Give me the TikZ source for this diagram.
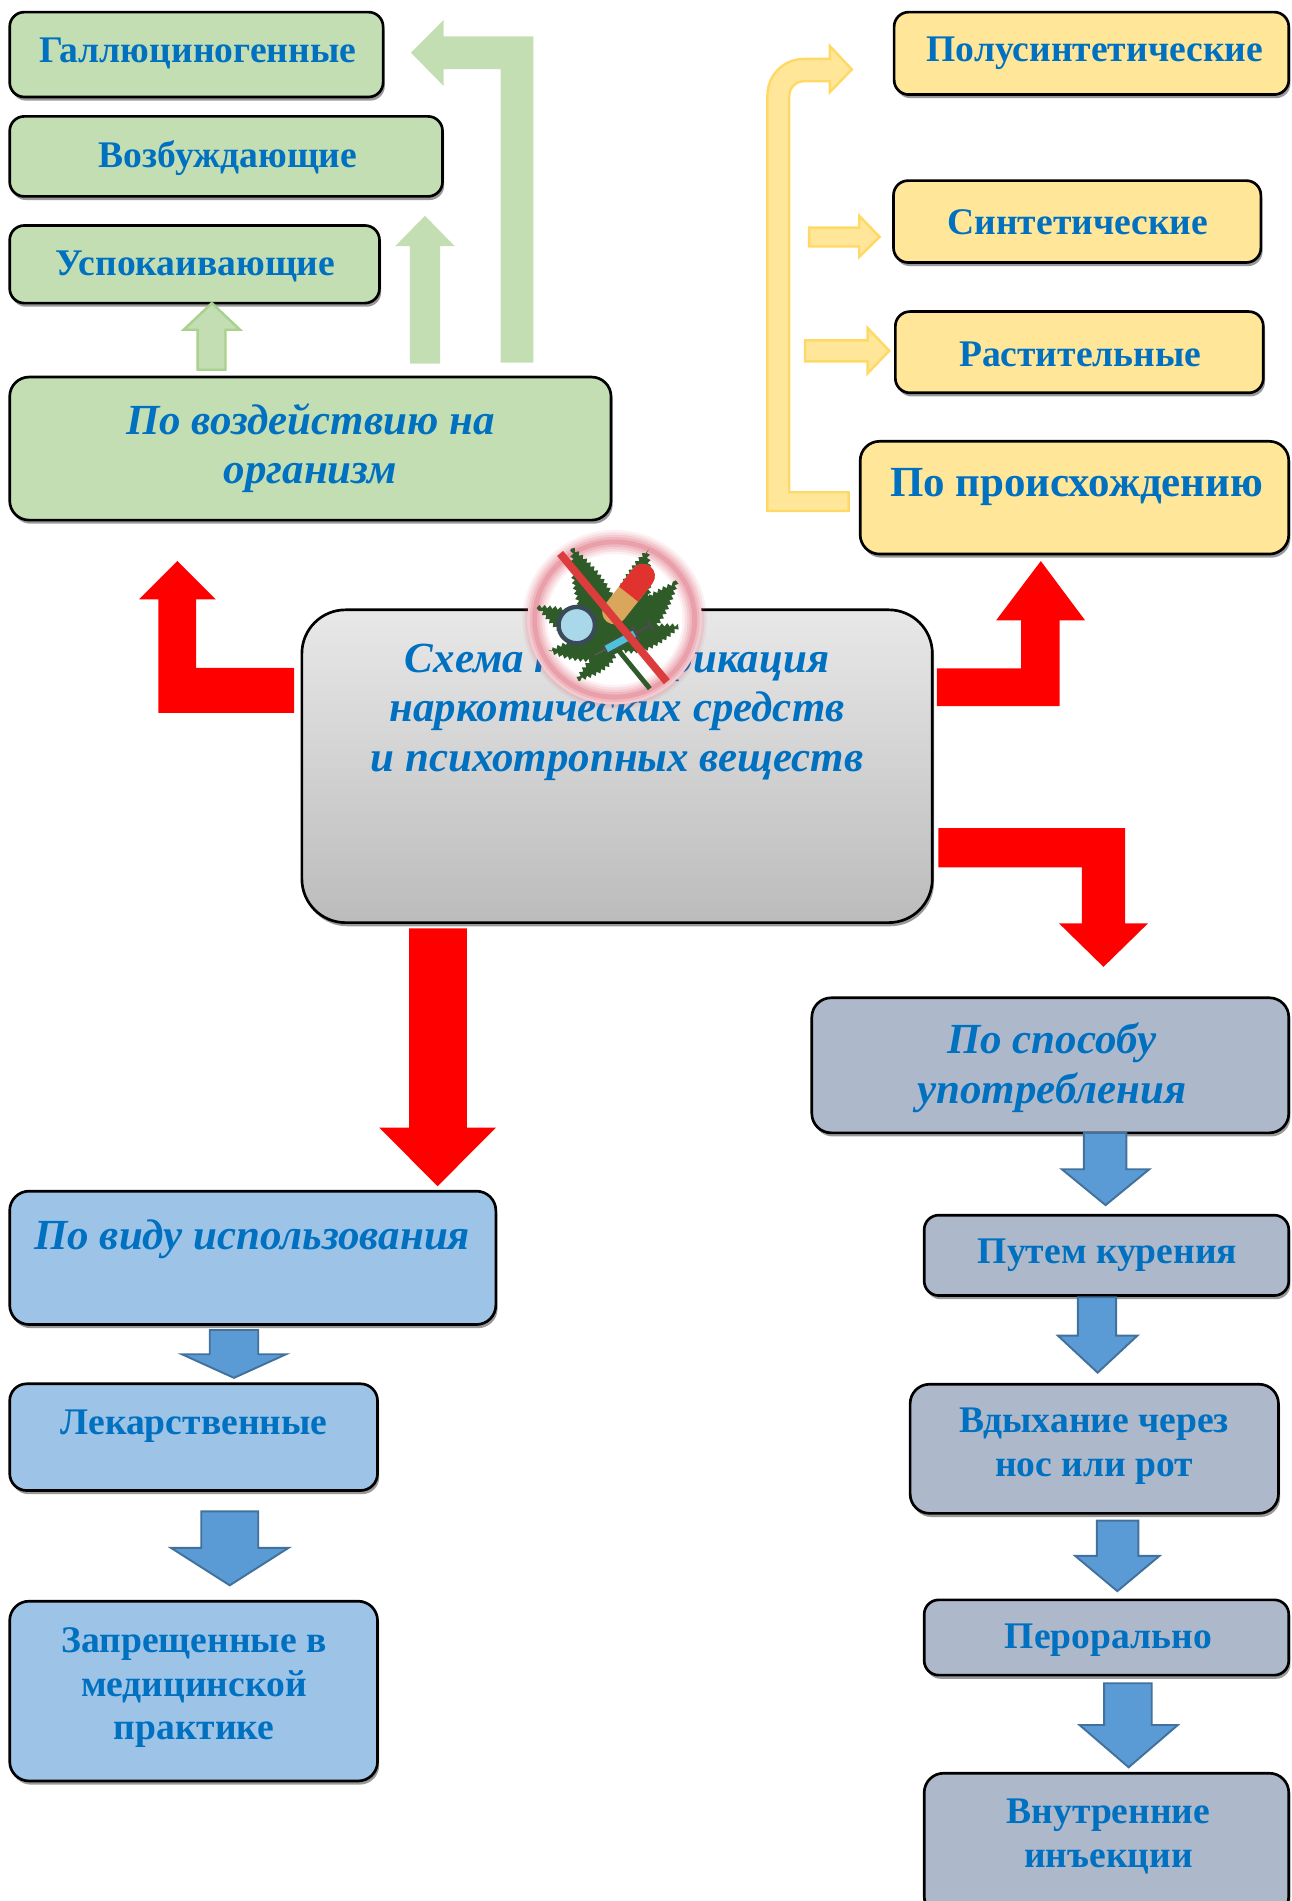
\documentclass[tikz,border=0pt]{standalone}
\usepackage{fontspec}
\setmainfont{Liberation Serif}
\usetikzlibrary{shadows,decorations.pathmorphing}

\definecolor{txtblue}{HTML}{0070C0}
\definecolor{grfill}{HTML}{C4DEB3}
\definecolor{grline}{HTML}{A9D18E}
\definecolor{yefill}{HTML}{FFE699}
\definecolor{yeline}{HTML}{FFD966}
\definecolor{blfill}{HTML}{9DC3E6}
\definecolor{gbfill}{HTML}{ADB9CA}
\definecolor{arblue}{HTML}{5B9BD5}
\definecolor{arblueline}{HTML}{41719C}
\definecolor{ringred}{HTML}{D9455A}
\definecolor{leafgreen}{HTML}{2E5B28}
\definecolor{captan}{HTML}{D9A65B}
\definecolor{capred}{HTML}{E0322E}
\definecolor{lensblue}{HTML}{A8D8EA}
\definecolor{lensrim}{HTML}{3A4A58}
\definecolor{syrcyan}{HTML}{4CC3D9}
\definecolor{slashred}{HTML}{DC3C3C}

\tikzset{
  box/.style={draw=black, line width=1.1pt, rounded corners=6pt, inner sep=0pt,
    drop shadow={shadow xshift=0.7pt, shadow yshift=-1.5pt, opacity=0.4, fill=black}},
  grbox/.style={box, fill=grfill},
  yebox/.style={box, fill=yefill},
  blbox/.style={box, fill=blfill},
  gbbox/.style={box, fill=gbfill},
  lbl/.style={text=txtblue, align=center, inner sep=0pt, font=\fontsize{15.5}{18}\selectfont\bfseries},
  hd/.style={text=txtblue, align=center, inner sep=0pt, font=\fontsize{17.7}{20.5}\selectfont\bfseries\itshape},
  redarr/.style={fill=red},
  grarr/.style={fill=grfill},
  yearr/.style={fill=yefill, draw=yeline, line width=1pt},
  blarr/.style={fill=arblue, draw=arblueline, line width=0.8pt},
  leaflet/.style={fill=leafgreen, decorate, decoration={zigzag, segment length=2.2pt, amplitude=0.7pt}},
}

% block arrow: style, shaft left/right, start y, head base y, head left/right, tip y
\newcommand{\blockarrow}[8]{%
  \path[#1] (#2,#4) -- (#3,#4) -- (#3,#5) -- (#7,#5) -- ({(#6+#7)/2},#8) -- (#6,#5) -- (#2,#5) -- cycle;}

\begin{document}
\begin{tikzpicture}[x=0.5pt,y=-0.5pt]
\useasboundingbox (0,0) rectangle (1065,1568);
\clip (0,0) rectangle (1065,1568);

% boxes
\node[grbox, minimum width=154pt, minimum height=35pt] (hall) at (162,45) {};
\node[grbox, minimum width=178.5pt, minimum height=33pt] (exc) at (186.5,129) {};
\node[grbox, minimum width=152.5pt, minimum height=32pt] (calm) at (160.5,218) {};
\node[grbox, minimum width=248pt, minimum height=59pt, rounded corners=8pt] (effect) at (256,370) {};

\node[yebox, minimum width=162.75pt, minimum height=34pt] (semi) at (900.25,44) {};
\node[yebox, minimum width=151.5pt, minimum height=33.75pt] (synth) at (888.5,182.75) {};
\node[yebox, minimum width=151.75pt, minimum height=33.5pt] (plant) at (890.25,290.5) {};
\node[yebox, minimum width=176.75pt, minimum height=46.5pt, rounded corners=8pt] (origin) at (886.25,410.5) {};

\node[box, minimum width=260pt, minimum height=129pt, rounded corners=18pt,
  top color=gray!18, bottom color=gray!53] (scheme) at (509,632) {};

\node[blbox, minimum width=200.5pt, minimum height=55pt, rounded corners=8pt] (usage) at (208.5,1037.5) {};
\node[blbox, minimum width=151.7pt, minimum height=44pt, rounded corners=7pt] (med) at (159.7,1185.4) {};
\node[blbox, minimum width=151.7pt, minimum height=74.15pt, rounded corners=8pt] (banned) at (159.7,1394.85) {};

\node[gbbox, minimum width=196.7pt, minimum height=55.7pt, rounded corners=8pt] (method) at (866.3,878.7) {};
\node[gbbox, minimum width=150.35pt, minimum height=33.15pt] (smoke) at (912.65,1035.45) {};
\node[gbbox, minimum width=151.9pt, minimum height=53.25pt, rounded corners=8pt] (inhale) at (902.6,1195) {};
\node[gbbox, minimum width=150.35pt, minimum height=31.05pt] (oral) at (912.65,1350.65) {};
\node[gbbox, minimum width=150.35pt, minimum height=58.7pt, rounded corners=8pt] (inject) at (912.65,1521.3) {};

% labels
\node[lbl] (hall-t) at (163,44) {Галлюциногенные};
\node[lbl] (exc-t) at (188,130) {Возбуждающие};
\node[lbl] (calm-t) at (161,220) {Успокаивающие};
\node[hd] (effect-t) at (256,369.5) {По воздействию на\\организм};
\node[lbl] (semi-t) at (903,44) {Полусинтетические};
\node[lbl] (synth-t) at (889,183) {Синтетические};
\node[lbl] (plant-t) at (891,292) {Растительные};
\node[lbl, font=\fontsize{17.7}{21}\selectfont\bfseries] (origin-t) at (888,402) {По происхождению};
\node[hd] (scheme-t) at (509,587) {Схема классификация\\наркотических средств\\и психотропных веществ};
\node[hd] (usage-t) at (208,1022) {По виду использования};
\node[lbl] (med-t) at (160,1176) {Лекарственные};
\node[lbl] (banned-t) at (160,1392) {Запрещенные в\\медицинской\\практике};
\node[hd] (method-t) at (867.5,880.5) {По способу\\употребления};
\node[lbl] (smoke-t) at (913.5,1035.3) {Путем курения};
\node[lbl] (inhale-t) at (902.5,1193) {Вдыхание через\\нос или рот};
\node[lbl] (oral-t) at (914.3,1353) {Перорально};
\node[lbl] (inject-t) at (914.3,1514.5) {Внутренние\\инъекции};

% red arrows from the central box
\fill[red] (242.5,550.8) -- (161.7,550.8) -- (161.7,494.4) -- (178,494.4) -- (146.3,462.8) -- (114.7,494.4) -- (130.6,494.4) -- (130.6,588) -- (242.5,588) -- cycle;
\fill[red] (772.7,551.3) -- (842.3,551.3) -- (842.3,511.7) -- (821.6,511.7) -- (858.5,462.8) -- (895,511.7) -- (873.9,511.7) -- (873.9,582.4) -- (772.7,582.4) -- cycle;
\fill[red] (774,683) -- (928,683) -- (928,761.7) -- (946.8,761.7) -- (910.2,797.5) -- (873.6,761.7) -- (892.3,761.7) -- (892.3,715.5) -- (774,715.5) -- cycle;
\blockarrow{redarr}{337.4}{385}{765.8}{930}{312.7}{409.2}{978.4}

% green arrows
\blockarrow{grarr, draw=grline, line width=1pt}{163}{186}{305}{272}{151.5}{198}{250}
\blockarrow{grarr}{338}{363}{300}{203}{326}{375}{178}
\fill[grfill] (413,299) -- (413,57) -- (366,57) -- (366,71) -- (339,43.5) -- (366,16.5) -- (366,30) -- (440,30) -- (440,299) -- cycle;

% yellow arrows
\path[yearr] (651,406) -- (700,406) -- (700,421.5) -- (633,421.5) -- (633,78.6)
  .. controls (633,62) and (646.4,48.6) .. (663,48.6) -- (684.5,48.6) -- (684.5,38) -- (702.6,57.3)
  -- (684.5,76) -- (684.5,67) -- (663,67) .. controls (656.4,67) and (651,72.4) .. (651,79) -- cycle;
\path[yearr] (667.4,187.7) -- (708.7,187.7) -- (708.7,178) -- (725.5,195.3) -- (708.7,212) -- (708.7,203.3) -- (667.4,203.3) -- cycle;
\path[yearr] (664,280.7) -- (715.6,280.7) -- (715.6,270.5) -- (733.5,289.3) -- (715.6,308) -- (715.6,298) -- (664,298) -- cycle;

% blue arrows
\blockarrow{blarr}{173}{213}{1097}{1117}{150}{236}{1136.5}
\blockarrow{blarr}{166}{213}{1246.6}{1276.7}{141}{238}{1307.6}
\blockarrow{blarr}{894}{929}{934.4}{964.4}{875.8}{948}{994}
\blockarrow{blarr}{889}{920.6}{1070}{1101.6}{872.5}{938.2}{1132.2}
\blockarrow{blarr}{904.7}{939}{1254.2}{1283.3}{886.8}{956.4}{1312.4}
\blockarrow{blarr}{910.7}{950}{1388.4}{1422.8}{890.4}{971.5}{1457.7}

% no-drugs sign
\begin{scope}[shift={(507,511)}]
  \fill[white] (0,0) ellipse [x radius=72, y radius=70];
  \foreach \w/\o in {10/0.08,8/0.1,6/0.12,4/0.15,2/0.2}
    \draw[ringred, line width=\w pt, opacity=\o] (0,0) ellipse [x radius=66, y radius=64];
  \begin{scope}[shift={(2,24)}]
    \foreach \a/\l in {114/91,73/85,48/74,20/55,152/74,182/56,218/42}
      \path[leaflet, rotate=\a] (0,0) .. controls ({0.25*\l},{0.27*\l}) and ({0.72*\l},{0.15*\l}) .. (\l,0)
        .. controls ({0.72*\l},{-0.15*\l}) and ({0.25*\l},{-0.27*\l}) .. (0,0);
    \draw[leafgreen, line width=2pt] (0,0) -- (27,33);
  \end{scope}
  \filldraw[fill=lensblue, draw=lensrim, line width=1.8pt] (-31.3,4.6) circle [radius=15];
  \begin{scope}[shift={(-16.2,29.3)}, rotate=28.4]
    \draw[gray!70!black, line width=0.6pt] (0,0) -- (10,0);
    \filldraw[fill=syrcyan, draw=black!70, line width=0.5pt] (10,-3.5) rectangle (38,3.5);
    \draw[black!70, line width=1pt] (38,0) -- (52,0);
    \draw[black!70, line width=1pt] (38,-7) -- (38,7);
    \draw[black!70, line width=1pt] (52,-5) -- (52,5);
  \end{scope}
  \begin{scope}[shift={(-6.5,1.8)}, rotate=51.8]
    \fill[captan, rounded corners=5pt] (0,-10) rectangle (58,10);
    \begin{scope}
      \clip (29,-12) rectangle (60,12);
      \fill[capred, rounded corners=5pt] (0,-10) rectangle (58,10);
    \end{scope}
  \end{scope}
  \draw[slashred, line width=3.2pt] (-45,-54.5) -- (43,51.3);
\end{scope}
\end{tikzpicture}
\end{document}
